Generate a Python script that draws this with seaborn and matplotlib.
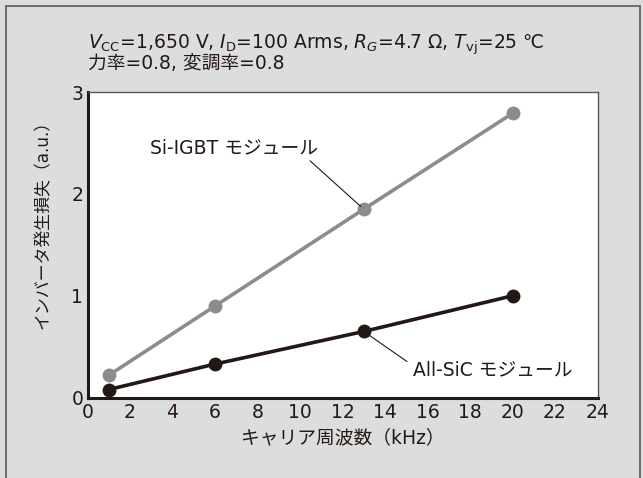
import matplotlib
matplotlib.use("Agg")
import matplotlib.pyplot as plt
import seaborn as sns
import pandas as pd
from matplotlib.patches import Rectangle

# Carrier frequency (kHz) and normalized inverter loss (a.u.)
freq_khz = [1, 6, 13, 20]
loss_si_igbt = [0.22, 0.90, 1.85, 2.79]
loss_all_sic = [0.08, 0.33, 0.65, 1.00]
module_names = ["Si-IGBT モジュール", "All-SiC モジュール"]

x_ticks = list(range(0, 25, 2))
y_ticks = [0, 1, 2, 3]

df = pd.DataFrame({
    "freq": freq_khz * 2,
    "loss": loss_si_igbt + loss_all_sic,
    "module": [module_names[0]] * len(freq_khz) + [module_names[1]] * len(freq_khz),
})

sns.set_theme(style="white")
plt.rcParams["font.family"] = ["DejaVu Sans", "Noto Sans CJK JP"]
plt.rcParams["mathtext.fontset"] = "dejavusans"

ink = "#231815"
gray = "#8c8c8c"
bg = "#dcdddd"
fs = 13.5

fig = plt.figure(figsize=(6.43, 4.78), dpi=100, facecolor=bg)
fig.patches.append(Rectangle((6 / 643, -0.01), 634 / 643, 1 - 6 / 478 + 0.01,
                             transform=fig.transFigure, fill=False,
                             edgecolor="#5a5a5a", linewidth=1.2, zorder=0))
ax = fig.add_axes([87.5 / 643, 1 - 397.7 / 478, 510 / 643, 305.7 / 478])
ax.set_facecolor("white")

sns.lineplot(data=df, x="freq", y="loss", hue="module",
             palette={module_names[0]: gray, module_names[1]: ink},
             marker="o", markersize=10, markeredgewidth=0, linewidth=2.6,
             legend=False, ax=ax)

ax.set_xlim(0, 24)
ax.set_ylim(0, 3)
ax.set_xticks(x_ticks)
ax.set_yticks(y_ticks)
ax.tick_params(axis="both", direction="in", length=6, width=1.3, color=ink,
               labelsize=13.5, labelcolor=ink, pad=3)
ax.tick_params(axis="x", pad=4)
for side in ["left", "bottom"]:
    ax.spines[side].set_linewidth(2.2)
    ax.spines[side].set_color(ink)
for side in ["top", "right"]:
    ax.spines[side].set_linewidth(1.0)
    ax.spines[side].set_color("#555555")

ax.set_xlabel("キャリア周波数（kHz）", fontsize=fs, color=ink, labelpad=4)
ax.set_ylabel("インバータ発生損失（a.u.）", fontsize=12.2, color=ink)
ax.yaxis.set_label_coords(-0.07, 0.58)

# Series labels with leader lines
ax.annotate(module_names[0], xy=(freq_khz[2], loss_si_igbt[2]),
            xytext=(2.95, 2.45), textcoords="data",
            fontsize=fs, color=ink, ha="left", va="center",
            arrowprops=dict(arrowstyle="-", color=ink, lw=0.8,
                            shrinkA=0, shrinkB=3,
                            relpos=(0.93, 0.0)))
ax.annotate(module_names[1], xy=(freq_khz[2], loss_all_sic[2]),
            xytext=(15.3, 0.27), textcoords="data",
            fontsize=fs, color=ink, ha="left", va="center",
            arrowprops=dict(arrowstyle="-", color=ink, lw=0.8,
                            shrinkA=2, shrinkB=3,
                            relpos=(0.0, 0.75)))

# Test conditions
conditions = (r"$V_{\mathrm{CC}}$=1,650 V, $I_{\mathrm{D}}$=100 Arms, "
              r"$R_{G}$=4.7 Ω, $T_{\mathrm{vj}}$=25 ℃" "\n"
              "力率=0.8, 変調率=0.8")
fig.text(88 / 643, 1 - 69 / 478, conditions, fontsize=fs, color=ink,
         ha="left", va="baseline", linespacing=0.8)

fig.savefig("out.png", dpi=100, facecolor=bg)
